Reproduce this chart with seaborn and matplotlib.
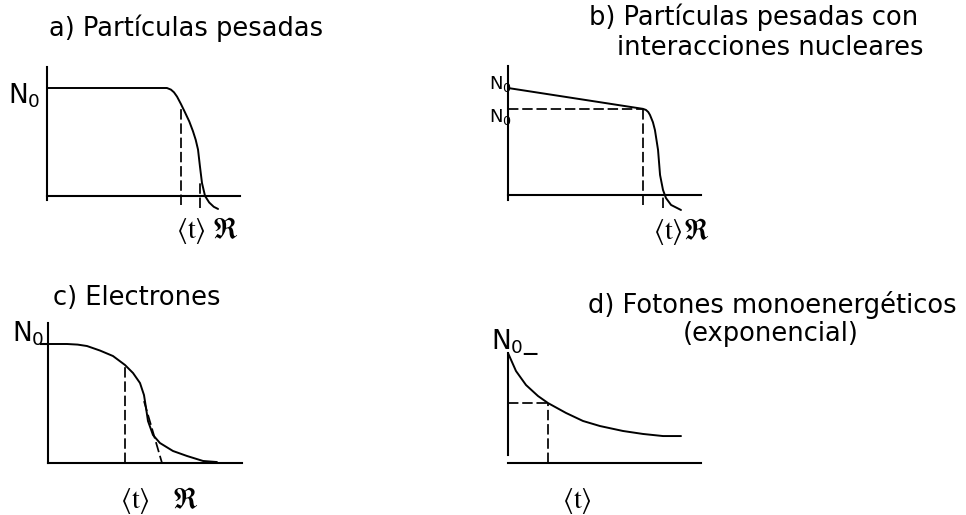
#!/usr/bin/env python3
"""Transmission curves N(t) for four kinds of radiation (schematic)."""

import matplotlib
matplotlib.use("Agg")
import matplotlib.pyplot as plt
import seaborn as sns

sns.set_style("white")
plt.rcParams["font.family"] = ["DejaVu Sans"]
plt.rcParams["text.color"] = "black"

W, H = 966, 515

# a) heavy particles: flat then a steep drop around the range R
A_DEPTH = [0, 0.784, 0.81, 0.83, 0.85, 0.876, 0.90, 0.93, 0.954, 0.972, 0.987,
           1.0, 1.013, 1.033, 1.06, 1.09, 1.118]
A_COUNT = [1, 1, 0.985, 0.96, 0.92, 0.85, 0.78, 0.69, 0.60, 0.52, 0.43,
           0.27, 0.12, 0.0, -0.06, -0.10, -0.12]
A_MEAN, A_RANGE = 0.876, 1.0

# b) heavy particles with nuclear interactions: slow linear loss before the drop
B_DEPTH = [0, 0.871, 0.890, 0.905, 0.916, 0.935, 0.948, 0.968, 0.981, 1.000,
           1.019, 1.052, 1.116]
B_COUNT = [1, 0.805, 0.795, 0.775, 0.748, 0.68, 0.607, 0.421, 0.187, 0.047,
           -0.028, -0.093, -0.140]
B_MEAN, B_RANGE, B_N0_PRIME = 0.871, 1.0, 0.80

# c) electrons: gradual fall with a long tail
C_DEPTH = [0, 0.167, 0.26, 0.342, 0.456, 0.570, 0.675, 0.746, 0.807, 0.842, 0.860,
           0.877, 0.921, 0.982, 1.096, 1.219, 1.360, 1.482]
C_COUNT = [1, 1, 0.995, 0.983, 0.945, 0.899, 0.824, 0.756, 0.672, 0.571, 0.462,
           0.353, 0.235, 0.168, 0.101, 0.059, 0.017, 0.008]
C_MEAN = 0.675
C_TANGENT_X = [0.842, 1.0]
C_TANGENT_Y = [0.52, 0.0]

# d) monoenergetic photons: exponential attenuation
D_DEPTH = [0, 0.2, 0.45, 0.75, 1.0, 1.45, 1.875, 2.3, 2.875, 3.375, 3.875, 4.325]
D_COUNT = [1.0, 0.836, 0.709, 0.609, 0.545, 0.455, 0.382, 0.336, 0.291, 0.264, 0.245, 0.245]
D_MEAN = 1.0

TITLES = {
    "a": ["a) Partículas pesadas"],
    "b": ["b) Partículas pesadas con", "interacciones nucleares"],
    "c": ["c) Electrones"],
    "d": ["d) Fotones monoenergéticos", "(exponencial)"],
}

LW_AXIS, LW_CURVE, LW_DASH = 1.5, 1.4, 1.25
DASH = (0, (6, 2.2))


def add_panel(fig, origin, scale, xlim, ylim, xbounds, ybounds):
    """Place an axes so that data (0, 0) sits at pixel `origin`."""
    ox, oy = origin
    sx, sy = scale
    left = ox + xlim[0] * sx
    right = ox + xlim[1] * sx
    top = oy - ylim[1] * sy
    bottom = oy - ylim[0] * sy
    ax = fig.add_axes([left / W, 1 - bottom / H, (right - left) / W, (bottom - top) / H])
    ax.set_xlim(xlim)
    ax.set_ylim(ylim)
    ax.patch.set_alpha(0)
    for side in ["top", "right"]:
        ax.spines[side].set_visible(False)
    for side in ["left", "bottom"]:
        ax.spines[side].set_position(("data", 0))
        ax.spines[side].set_linewidth(LW_AXIS)
        ax.spines[side].set_color("black")
    ax.spines["bottom"].set_bounds(*xbounds)
    ax.spines["left"].set_bounds(*ybounds)
    ax.set_xticks([])
    ax.set_yticks([])
    return ax


def curve(ax, x, y, lw=LW_CURVE):
    sns.lineplot(x=x, y=y, ax=ax, color="black", linewidth=lw,
                 estimator=None, sort=False, clip_on=False)
    ax.set_xlabel("")
    ax.set_ylabel("")


def dashed_v(ax, x, y0, y1):
    ax.vlines(x, y0, y1, colors="black", linewidth=LW_DASH, linestyles=DASH)


def dashed_h(ax, y, x0, x1):
    ax.hlines(y, x0, x1, colors="black", linewidth=LW_DASH, linestyles=DASH)


def px_text(fig, x, y, s, size, ha="left", **kw):
    fig.text(x / W, 1 - y / H, s, fontsize=size, ha=ha, va="baseline", color="black", **kw)


def mean_label(fig, x, y):
    px_text(fig, x, y, r"$\langle\mathrm{t}\rangle$", 20, ha="center", math_fontfamily="stix")


def range_label(fig, x, y):
    px_text(fig, x, y, r"$\Re$", 21, ha="center", math_fontfamily="stix")


def main():
    fig = plt.figure(figsize=(W / 100, H / 100), dpi=100)
    fig.patch.set_facecolor("white")

    # a)
    ax = add_panel(fig, (47, 196), (153, 108), (-0.05, 1.35), (-0.25, 1.3),
                   (0, 1.26), (-0.04, 1.19))
    curve(ax, A_DEPTH, A_COUNT)
    dashed_v(ax, A_MEAN, -0.085, 0.82)
    dashed_v(ax, A_RANGE, -0.11, 0.15)
    px_text(fig, 8, 104, r"$\mathregular{N_0}$", 19)
    mean_label(fig, 191, 238)
    range_label(fig, 225, 238)

    # b)
    ax = add_panel(fig, (508, 195), (155, 107), (-0.05, 1.35), (-0.25, 1.3),
                   (0, 1.245), (-0.05, 1.21))
    curve(ax, B_DEPTH, B_COUNT)
    dashed_h(ax, B_N0_PRIME, 0, B_MEAN)
    dashed_v(ax, B_MEAN, -0.09, B_N0_PRIME)
    dashed_v(ax, B_RANGE, -0.12, 0)
    px_text(fig, 489, 89, r"$\mathregular{N_0}$", 13)
    px_text(fig, 489, 122, r"$\mathregular{N_0}$", 13)
    mean_label(fig, 668, 239)
    range_label(fig, 696, 239)

    # c)
    ax = add_panel(fig, (48, 463), (114, 119), (-0.05, 1.75), (-0.1, 1.25),
                   (0, 1.70), (0, 1.18))
    curve(ax, C_DEPTH, C_COUNT)
    dashed_v(ax, C_MEAN, 0, 0.824)
    curve(ax, C_TANGENT_X, C_TANGENT_Y, lw=LW_DASH)
    ax.lines[-1].set_linestyle(DASH)
    ax.set_yticks([1], labels=[""])
    ax.tick_params(axis="y", direction="out", length=6, width=1.5, color="black", left=True)
    px_text(fig, 12, 341, r"$\mathregular{N_0}$", 19)
    mean_label(fig, 135, 508)
    range_label(fig, 185, 508)

    # d)
    ax = add_panel(fig, (508, 463), (40, 110), (-0.2, 5.0), (-0.1, 1.2),
                   (0, 4.825), (0.073, 1.0))
    curve(ax, D_DEPTH, D_COUNT)
    d_level = D_COUNT[D_DEPTH.index(D_MEAN)]
    dashed_h(ax, d_level, 0, D_MEAN)
    dashed_v(ax, D_MEAN, 0, d_level)
    px_text(fig, 491, 349, r"$\mathregular{N_0}$_", 19)
    mean_label(fig, 577, 508)

    # panel titles
    title_pos = {
        "a": [(186, 36)],
        "b": [(754, 25), (770, 55)],
        "c": [(137, 305)],
        "d": [(772, 313), (771, 341)],
    }
    for key, lines in TITLES.items():
        for text, (x, y) in zip(lines, title_pos[key]):
            px_text(fig, x, y, text, 18.5, ha="center")

    fig.savefig("out.png", dpi=100, facecolor="white")
    plt.close(fig)


if __name__ == "__main__":
    main()
